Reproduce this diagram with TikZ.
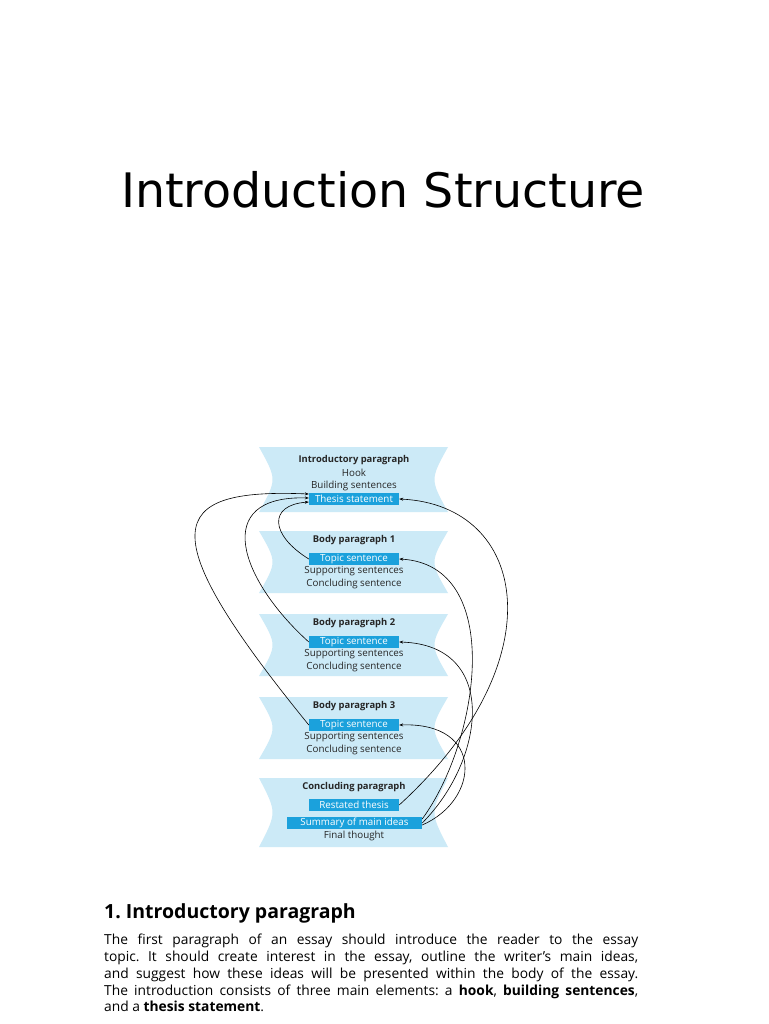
\documentclass[tikz,border=0pt]{standalone}
\usepackage{fontspec}
\setmainfont{Open Sans}
\newfontfamily\titlefont{DejaVu Sans}
\usetikzlibrary{arrows.meta}
\definecolor{panelblue}{HTML}{CCEAF7}
\definecolor{boxblue}{HTML}{1BA1DC}
\definecolor{textgrey}{HTML}{262626}
\tikzset{
  line/.style={font=\fontsize{9.8}{10}\selectfont, text=textgrey, inner sep=0pt},
  head/.style={line, font=\fontsize{9.4}{10}\selectfont\bfseries},
  tag/.style={fill=boxblue, text=white, font=\fontsize{9.8}{10}\selectfont,
    inner sep=0pt, minimum height=12pt, minimum width=90pt},
  link/.style={line width=0.6pt, black, -{Stealth[length=4pt,width=3pt]}},
}
\newcommand\panel[2]{%
  \fill[panelblue] (259,#1) .. controls (277,{(#1+#2)/2}) .. (259,#2)
    -- (448,#2) .. controls (430,{(#1+#2)/2}) .. (448,#1) -- cycle;}
\begin{document}
\frenchspacing
\begin{tikzpicture}[x=1pt,y=-1pt]
  \fill[white] (0,0) rectangle (768,1024);
  \useasboundingbox (0,0) rectangle (768,1024);
  \node[font=\titlefont\fontsize{47.5}{50}\selectfont, anchor=base, inner sep=0pt] (title) at (383,208) {Introduction Structure};

  \panel{447}{512}
  \node[head] (intro) at (354,460) {Introductory paragraph};
  \node[line] (hook) at (354,473) {Hook};
  \node[line] (building) at (354,486) {Building sentences};
  \node[tag] (thesis) at (354,499) {Thesis statement};

  \foreach \n/\y in {1/531,2/614,3/697}{
    \panel{\y}{\y+62}
    \node[head] (body\n) at (354,\y+9) {Body paragraph \n};
    \node[tag] (t\n) at (354,\y+28) {Topic sentence};
    \node[line] (s\n) at (354,\y+40) {Supporting sentences};
    \node[line] (c\n) at (354,\y+53) {Concluding sentence};
  }

  \panel{778}{847}
  \node[head] (concl) at (354,787) {Concluding paragraph};
  \node[tag] (restated) at (354,805) {Restated thesis};
  \node[tag, minimum width=135pt] (summary) at (354.5,823) {Summary of main ideas};
  \node[line] (final) at (354,836) {Final thought};

  \draw[link] (t1.west) .. controls (270,535) and (268,505) .. ([yshift=-3pt]thesis.west);
  \draw[link] (t2.west) .. controls (240,580) and (210,495) .. ([yshift=1pt]thesis.west);
  \draw[link] (t3.west) .. controls (150,530) and (165,488) .. ([yshift=5pt]thesis.west);
  \draw[link] (restated.east) .. controls (558,660) and (528,505) .. (thesis.east);
  \draw[link] ([yshift=4pt]summary.east) .. controls (480,740) and (505,565) .. (t1.east);
  \draw[link] (summary.east) .. controls (485,760) and (500,645) .. (t2.east);
  \draw[link] ([yshift=-2pt]summary.east) .. controls (480,800) and (485,722) .. (t3.east);

  \node[anchor=base west, inner sep=0pt, font=\fontsize{19.5}{22}\selectfont\bfseries] (heading) at (104,918) {1. Introductory paragraph};
  \node[anchor=north west, inner sep=0pt, text width=534pt, align=justify,
    font=\fontsize{13.8}{16.8}\selectfont] (para) at (104,934)
    {The first paragraph of an essay should introduce the reader to the essay\linebreak
     topic. It should create interest in the essay, outline the writer's main ideas,\linebreak
     and suggest how these ideas will be presented within the body of the essay.\linebreak
     The introduction consists of three main elements: a \textbf{hook}, \textbf{building sentences},\linebreak
     and a \textbf{thesis statement}.};
\end{tikzpicture}
\end{document}
